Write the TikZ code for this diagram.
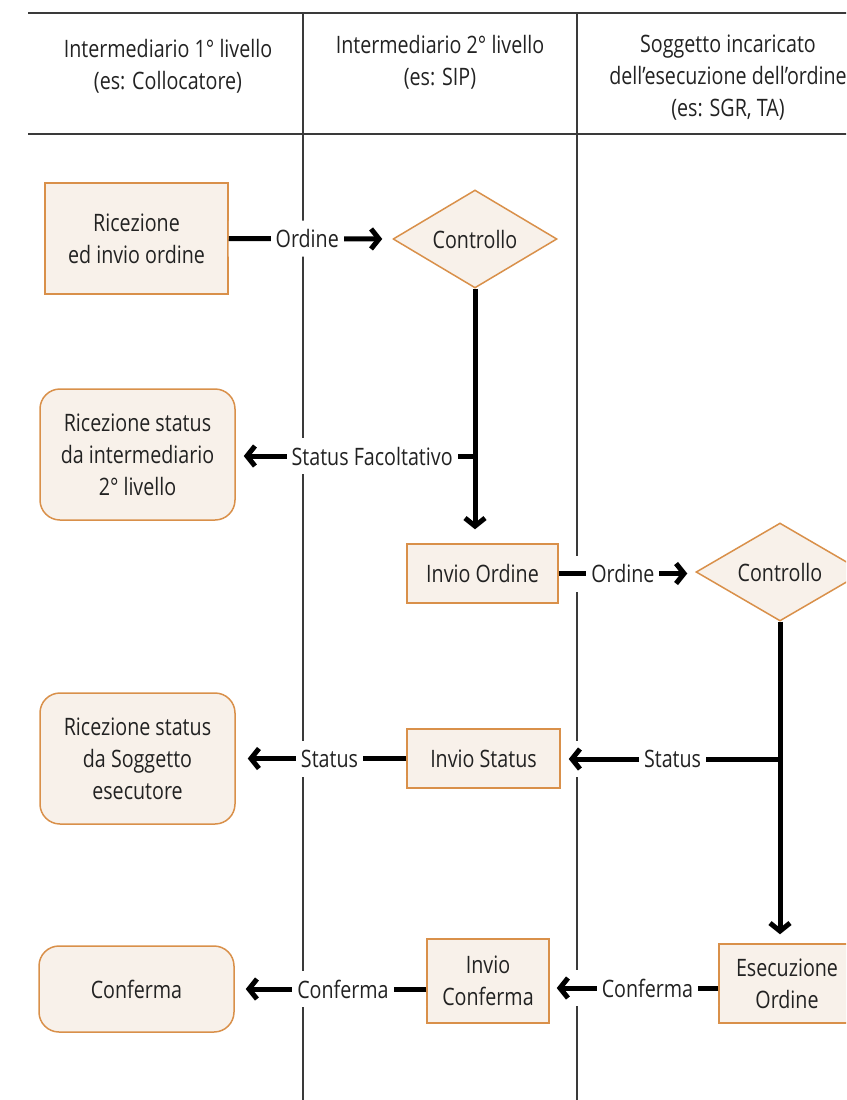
\documentclass[tikz,border=0pt]{standalone}
\usepackage{fontspec}
\setmainfont{Open Sans}[FakeStretch=0.82]
\usetikzlibrary{shapes.geometric,arrows.meta}
\definecolor{boxfill}{HTML}{F8F1EA}
\definecolor{boxdraw}{HTML}{D9904A}
\definecolor{lanecol}{HTML}{3A3A3A}
\definecolor{txt}{HTML}{222222}
\begin{document}
\begin{tikzpicture}[x=1pt,y=-1pt,
  every node/.style={font=\fontsize{24}{32}\selectfont, text=txt},
  proc/.style={draw=boxdraw, fill=boxfill, line width=1.5pt, rectangle, align=center, inner sep=0pt},
  term/.style={proc, rounded corners=20pt},
  dec/.style={draw=boxdraw, fill=boxfill, line width=1.5pt, diamond, aspect=1.67, inner sep=0pt},
  flow/.style={draw=black, line width=5pt, -{Straight Barb[length=8pt,width=20pt]}},
  halo/.style={draw=white, line width=36pt},
  lbl/.style={fill=white, inner xsep=5pt, inner ysep=6pt},
  head/.style={align=center, inner sep=0pt},
  ]
\useasboundingbox (0,0) rectangle (846,1100);
\clip (0,0) rectangle (846,1100);
% lanes
\draw[lanecol, line width=2pt] (28,13) -- (860,13);
\draw[lanecol, line width=2pt] (28,134) -- (860,134);
\draw[lanecol, line width=1.5pt] (303,13) -- (303,1110);
\draw[lanecol, line width=1.5pt] (577,13) -- (577,1110);
% headers
\node[head] (h1) at (168,66.5) {Intermediario 1° livello\\(es: Collocatore)};
\node[head] (h2) at (440,62.5) {Intermediario 2° livello\\(es: SIP)};
\node[head] (h3) at (728,78) {Soggetto incaricato\\dell’esecuzione dell’ordine\\(es: SGR, TA)};
% nodes
\node[proc, minimum width=183pt, minimum height=111pt] (b1) at (136.5,238.5) {Ricezione\\ed invio ordine};
\node[dec, minimum width=164pt, minimum height=98pt] (d1) at (475,239) {Controllo};
\node[term, minimum width=195pt, minimum height=131pt] (r2) at (137.5,454.5) {Ricezione status\\da intermediario\\2° livello};
\node[proc, minimum width=151pt, minimum height=59pt] (io) at (482.5,573.5) {Invio Ordine};
\node[dec, minimum width=168pt, minimum height=98pt] (d2) at (780,572) {Controllo};
\node[proc, minimum width=153pt, minimum height=59pt] (is) at (483.5,758.5) {Invio Status};
\node[term, minimum width=195pt, minimum height=131pt] (r3) at (137.5,758.5) {Ricezione status\\da Soggetto\\esecutore};
\node[proc, minimum width=136pt, minimum height=79pt] (ex) at (787,983.5) {Esecuzione\\Ordine};
\node[proc, minimum width=122pt, minimum height=84pt] (ic) at (488,981) {Invio\\Conferma};
\node[term, minimum width=195pt, minimum height=86pt] (cf) at (136.5,989) {Conferma};
\coordinate (j1) at (475,456);
\coordinate (j2) at (780,759);
\coordinate (c8) at (0,988);
\coordinate (c9) at (0,989);
% white gaps where the connectors cross the lanes
\draw[halo] (b1.east) -- (d1.west);
\draw[halo] (j1) -- (j1 -| r2.east);
\draw[halo] (io.east) -- (io.east -| d2.west);
\draw[halo] (j2) -- (j2 -| is.east);
\draw[halo] (is.west) -- (r3.east);
\draw[halo] (ex.west |- c8) -- (ic.east |- c8);
\draw[halo] (ic.west |- c9) -- (cf.east |- c9);
% connectors
\draw[flow, shorten >=10pt] (b1.east) -- node[lbl, pos=.48] (l1) {Ordine} (d1.west);
\draw[flow, shorten >=8pt] (j1) -- node[lbl, pos=.43] (l3) {Status Facoltativo} (j1 -| r2.east);
\draw[flow, shorten >=14pt] (d1.south) -- (d1.south |- io.north);
\draw[flow, shorten >=8pt] (io.east) -- node[lbl, pos=.47] (l4) {Ordine} (io.east -| d2.west);
\draw[flow, shorten >=8pt] (j2) -- node[lbl, pos=.49] (l6) {Status} (j2 -| is.east);
\draw[flow, shorten >=9pt] (d2.south) -- (d2.south |- ex.north);
\draw[flow, shorten >=12pt] (is.west) -- node[lbl, pos=.45] (l7) {Status} (r3.east);
\draw[flow, shorten >=7pt] (ex.west |- c8) -- node[lbl, pos=.42] (l8) {Conferma} (ic.east |- c8);
\draw[flow, shorten >=11pt] (ic.west |- c9) -- node[lbl, pos=.435] (l9) {Conferma} (cf.east |- c9);
\end{tikzpicture}
\end{document}
